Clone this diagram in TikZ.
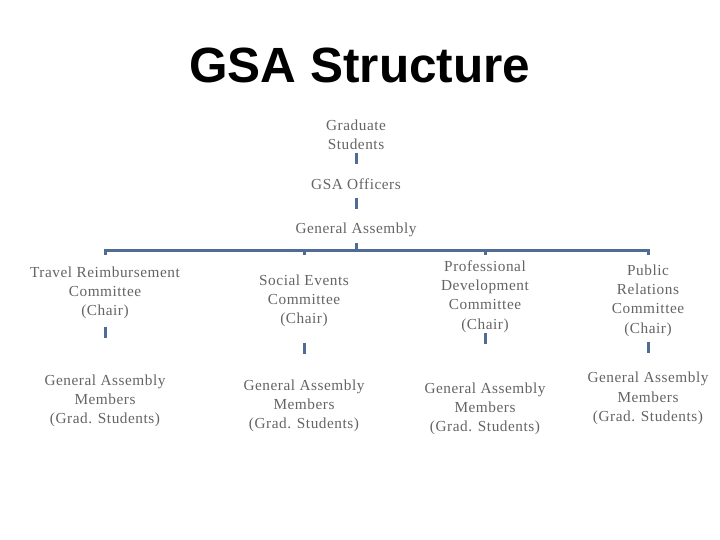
\documentclass[tikz,border=0pt]{standalone}
\usepackage{fontspec}
\setmainfont{Liberation Serif}
\newfontfamily\titlefont{Liberation Sans}
\newfontfamily\boxfont[LetterSpace=3.5]{Liberation Serif}
\definecolor{linkblue}{RGB}{79,109,148}
\definecolor{txtgray}{RGB}{100,100,100}
\tikzset{
  lbl/.style={align=center, inner sep=0pt, text=txtgray, font=\boxfont\fontsize{15.3}{19.3}\selectfont},
  link/.style={draw=linkblue, line width=3pt},
}
\begin{document}
\begin{tikzpicture}[x=1pt,y=-1pt]
\useasboundingbox (0,0) rectangle (720,540);
\node[anchor=base, font=\titlefont\bfseries\fontsize{49.5}{50}\selectfont] (title) at (360,83) {GSA Structure};
\node[lbl] (grad) at (356,135) {Graduate\\Students};
\node[lbl] (off) at (356,184.5) {GSA Officers};
\node[lbl] (ga) at (356,229.5) {General Assembly};
% committees
\node[lbl] (c1) at (105,293) {Travel Reimbursement\\Committee\\(Chair)};
\node[lbl] (c2) at (304,301) {Social Events\\Committee\\(Chair)};
\node[lbl] (c3) at (485,296.5) {Professional\\Development\\Committee\\(Chair)};
\node[lbl] (c4) at (648,300.5) {Public\\Relations\\Committee\\(Chair)};
% members
\node[lbl] (m1) at (105,401) {General Assembly\\Members\\(Grad. Students)};
\node[lbl] (m2) at (304,406) {General Assembly\\Members\\(Grad. Students)};
\node[lbl] (m3) at (485,409) {General Assembly\\Members\\(Grad. Students)};
\node[lbl] (m4) at (648,398.5) {General Assembly\\Members\\(Grad. Students)};
% tick coordinates
\coordinate (t0a) at (356,153); \coordinate (t0b) at (356,164);
\coordinate (t1a) at (356,198); \coordinate (t1b) at (356,209);
\coordinate (bus) at (356,250);
\coordinate (ga0) at (356,243);
\coordinate (b1) at (105,250); \coordinate (b1d) at (105,255);
\coordinate (b2) at (304,250); \coordinate (b2d) at (304,255);
\coordinate (b3) at (485,250); \coordinate (b3d) at (485,255);
\coordinate (b4) at (648,250); \coordinate (b4d) at (648,255);
\coordinate (k1a) at (105,327); \coordinate (k1b) at (105,338);
\coordinate (k2a) at (304,343); \coordinate (k2b) at (304,354);
\coordinate (k3a) at (485,333); \coordinate (k3b) at (485,344);
\coordinate (k4a) at (648,342); \coordinate (k4b) at (648,353);
\draw[link] (t0a) -- (t0b);
\draw[link] (t1a) -- (t1b);
\draw[link] (ga0) -- (bus);
\draw[link] (b1d) -- (b1) -- (b4) -- (b4d);
\draw[link] (b2) -- (b2d);
\draw[link] (b3) -- (b3d);
\draw[link] (k1a) -- (k1b);
\draw[link] (k2a) -- (k2b);
\draw[link] (k3a) -- (k3b);
\draw[link] (k4a) -- (k4b);
\end{tikzpicture}
\end{document}
